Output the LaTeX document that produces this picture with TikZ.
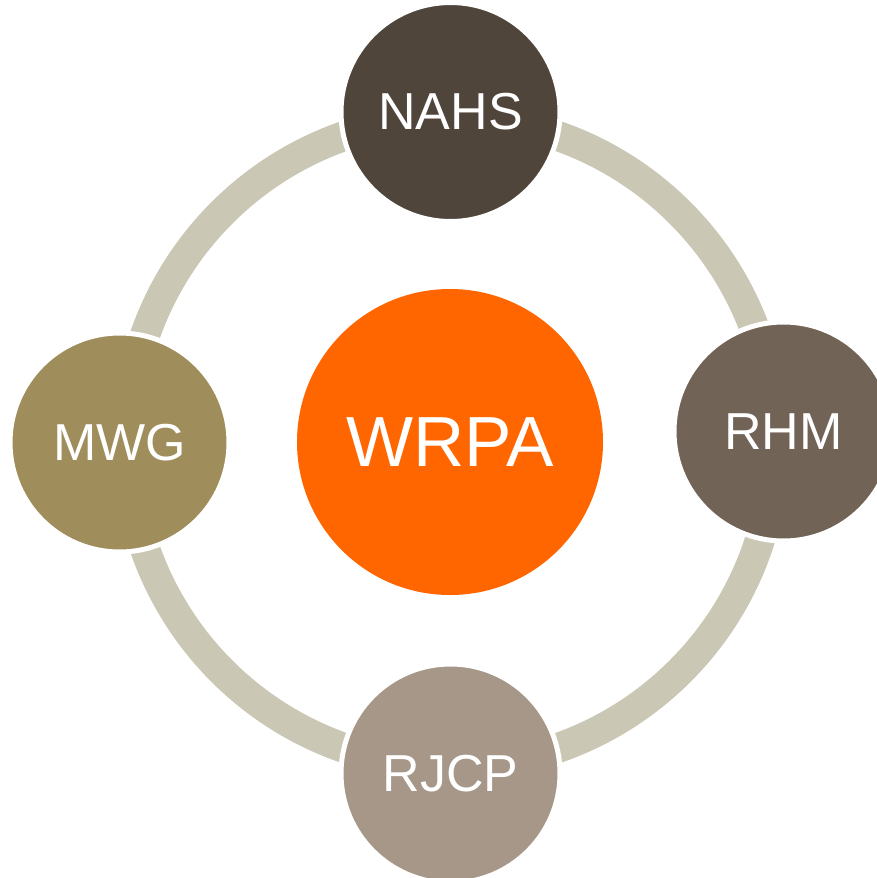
\documentclass[tikz,border=0pt]{standalone}
\usepackage{fontspec}
\setmainfont{Liberation Sans}
\definecolor{ringc}{RGB}{203,199,181}
\definecolor{nahsc}{RGB}{80,69,59}
\definecolor{rhmc}{RGB}{113,99,85}
\definecolor{rjcpc}{RGB}{166,151,136}
\definecolor{mwgc}{RGB}{160,141,92}
\definecolor{wrpac}{RGB}{255,102,0}
\begin{document}
\begin{tikzpicture}[x=1pt,y=-1pt,
  member/.style={circle, draw=white, line width=5pt, minimum size=219pt,
    inner sep=0pt, text=white, font=\fontsize{52}{60}\selectfont},
  hub/.style={circle, minimum size=306pt, inner sep=0pt, fill=wrpac,
    text=white, font=\fontsize{71}{80}\selectfont}]
\useasboundingbox (0,0) rectangle (877,878);
\draw[ringc, line width=30pt] (451,442) circle[radius=324pt];
\node[member, fill=nahsc] (nahs) at (450.5,112) {NAHS};
\node[member, fill=rhmc] (rhm) at (783.5,431.5) {RHM};
\node[member, fill=rjcpc] (rjcp) at (450.5,773.5) {RJCP};
\node[member, fill=mwgc] (mwg) at (119.5,442.5) {MWG};
\node[hub] (wrpa) at (450,442) {WRPA};
\end{tikzpicture}
\end{document}
